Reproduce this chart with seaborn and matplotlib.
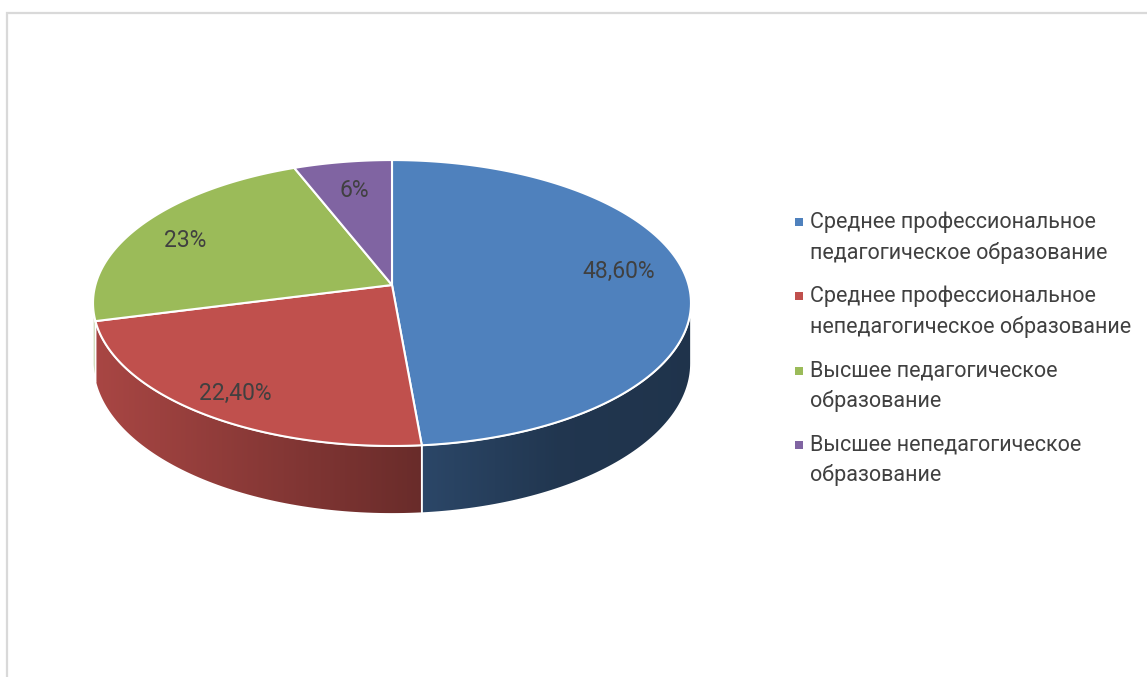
import numpy as np
import matplotlib.pyplot as plt
from matplotlib.patches import Polygon
import seaborn as sns

# данные
categories = ["Среднее профессиональное\nпедагогическое образование",
              "Среднее профессиональное\nнепедагогическое образование",
              "Высшее педагогическое\nобразование",
              "Высшее непедагогическое\nобразование"]
values = [48.6, 22.4, 23.0, 6.0]
value_labels = ["48,60%", "22,40%", "23%", "6%"]
colors = ["#4f81bd", "#c0504d", "#9bbb59", "#8064a2"]

sns.set_style("white")
plt.rcParams['font.family'] = ['Roboto', 'DejaVu Sans']
txt_col = "#404040"

# геометрия 3D-диска (в пикселях)
cx, cy = 392, 285
A, B, C, p = 296.6, 140.7, 59.4, 0.126


def proj(theta, r=1.0, z=0.0):
    s, c = np.sin(theta), np.cos(theta)
    d = 1 + p * r * s
    return cx + A * r * c / d, cy - B * r * s / d + C * z / d


def shade(x):
    return np.interp(x, [93, 420, 560, 691], [0.88, 0.55, 0.42, 0.40])


fig = plt.figure(figsize=(11.47, 6.77), dpi=100)
ax = fig.add_axes([0, 0, 1, 1])
ax.set_xlim(0, 1147)
ax.set_ylim(677, 0)
ax.axis('off')

# рамка
ax.plot([7, 7, 1147], [677, 12.5, 12.5], color="#d9d9d9", lw=1.6, solid_joinstyle='miter')

vals = np.array(values)
cum = np.concatenate([[0], np.cumsum(vals)]) / vals.sum()
starts = np.deg2rad(90 - 360 * cum[:-1])
ends = np.deg2rad(90 - 360 * cum[1:])
front = np.deg2rad([-172.77, -7.23])

# боковые стенки
for i, col in enumerate(colors):
    for k in (-1, 0, 1):
        a = max(ends[i], front[0] + 2 * np.pi * k)
        b = min(starts[i], front[1] + 2 * np.pi * k)
        if b <= a:
            continue
        t = np.linspace(a, b, 80)
        xt, yt = proj(t)
        xb, yb = proj(t[::-1], z=1.0)
        pts = np.column_stack([np.r_[xt, xb], np.r_[yt, yb]])
        poly = Polygon(pts, closed=True, facecolor='none', edgecolor='white', lw=1.2, zorder=3)
        ax.add_patch(poly)
        x0, x1 = pts[:, 0].min(), pts[:, 0].max()
        y0, y1 = pts[:, 1].min(), pts[:, 1].max()
        xs = np.linspace(x0, x1, 200)
        base = np.array(plt.matplotlib.colors.to_rgb(col))
        img = np.clip(shade(xs)[:, None] * base[None, :], 0, 1)[None, :, :].repeat(2, axis=0)
        im = ax.imshow(img, extent=[x0, x1, y1, y0], aspect='auto', zorder=2, interpolation='bilinear')
        im.set_clip_path(poly)

# верхняя поверхность
for i, col in enumerate(colors):
    t = np.linspace(starts[i], ends[i], 150)
    xt, yt = proj(t)
    pts = np.column_stack([np.r_[cx, xt], np.r_[cy, yt]])
    ax.add_patch(Polygon(pts, closed=True, facecolor=col, edgecolor='white', lw=1.5, zorder=4))

# подписи данных
lab_r = [0.78, 0.85, 0.80, 0.75]
lab_shift = [4.4, 0.7, 2.4, 0.0]
for i, lab in enumerate(value_labels):
    mid = (starts[i] + ends[i]) / 2 + np.deg2rad(lab_shift[i])
    x, y = proj(mid, r=lab_r[i])
    ax.text(x, y, lab, ha='center', va='center', fontsize=16.5, color=txt_col, zorder=5)

# легенда
for i, (cat, col) in enumerate(zip(categories, colors)):
    y = 222 + 74.3 * i
    ax.scatter([799], [y], marker='s', s=36, color=col, linewidths=0, zorder=5)
    for j, line in enumerate(cat.split("\n")):
        ax.text(810, y + 30.5 * j, line, ha='left', va='center', fontsize=15.5, color=txt_col)

ax.set_xlim(0, 1147)
ax.set_ylim(677, 0)
fig.savefig("out.png", dpi=100)
